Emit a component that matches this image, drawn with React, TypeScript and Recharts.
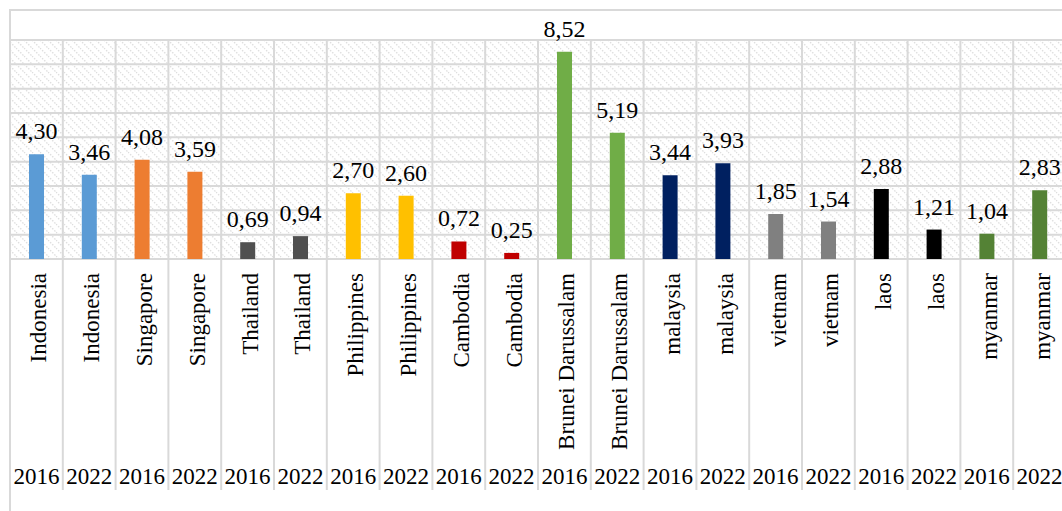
import React from 'react';
import { BarChart, Bar, XAxis, YAxis, CartesianGrid, Cell, LabelList } from 'recharts';

const countries = [
  'Indonesia', 'Indonesia', 'Singapore', 'Singapore', 'Thailand', 'Thailand',
  'Philippines', 'Philippines', 'Cambodia', 'Cambodia', 'Brunei Darussalam', 'Brunei Darussalam',
  'malaysia', 'malaysia', 'vietnam', 'vietnam', 'laos', 'laos', 'myanmar', 'myanmar',
];
const years = [
  '2016', '2022', '2016', '2022', '2016', '2022', '2016', '2022', '2016', '2022',
  '2016', '2022', '2016', '2022', '2016', '2022', '2016', '2022', '2016', '2022',
];
const values = [
  4.30, 3.46, 4.08, 3.59, 0.69, 0.94, 2.70, 2.60, 0.72, 0.25,
  8.52, 5.19, 3.44, 3.93, 1.85, 1.54, 2.88, 1.21, 1.04, 2.83,
];
const barColors = [
  '#5B9BD5', '#5B9BD5', '#ED7D31', '#ED7D31', '#505050', '#505050',
  '#FFC000', '#FFC000', '#C00000', '#C00000', '#70AD47', '#70AD47',
  '#002060', '#002060', '#808080', '#808080', '#000000', '#000000', '#548235', '#548235',
];
const yTicks = [0, 1, 2, 3, 4, 5, 6, 7, 8, 9];

const data = countries.map((c, i) => ({ idx: i, country: c, year: years[i], value: values[i] }));

const GRID = '#d9d9d9';

const CountryTick = (props: any) => {
  const { x, y, payload } = props;
  const i = payload.value;
  const off = payload.offset ?? 26.4;
  return (
    <g>
      <line x1={x - off} x2={x - off} y1={y} y2={490} stroke={GRID} strokeWidth={2} />
      {i === countries.length - 1 && (
        <line x1={x + off} x2={x + off} y1={y} y2={490} stroke={GRID} strokeWidth={2} />
      )}
      <text
        transform={`translate(${x + 10},${y + 14}) rotate(-90)`}
        textAnchor="end"
        fontSize={23}
        fill="#000"
      >
        {countries[i]}
      </text>
    </g>
  );
};

const YearTick = (props: any) => {
  const { x, y, payload } = props;
  return (
    <text x={x} y={y + 25} textAnchor="middle" fontSize={23} fill="#000">
      {years[payload.value]}
    </text>
  );
};

export default function App() {
  return (
    <div
      style={{
        position: 'absolute',
        left: 0,
        top: 0,
        width: 1062,
        height: 511,
        overflow: 'hidden',
        background: '#fff',
        fontFamily: '"Liberation Serif", serif',
      }}
    >
      <div
        style={{
          position: 'absolute',
          left: 9,
          top: 9,
          width: 2000,
          height: 2000,
          borderTop: `2px solid ${GRID}`,
          borderLeft: `2px solid ${GRID}`,
        }}
      />
      <div style={{ position: 'absolute', left: 0, top: 0 }}>
        <BarChart
          width={1066}
          height={511}
          data={data}
          margin={{ top: 40, right: 0, bottom: 0, left: 10 }}
          barCategoryGap={0}
        >
          <defs>
            <pattern id="hatch" width="8" height="8" patternUnits="userSpaceOnUse">
              <rect width="8" height="8" fill="#fff" />
              <path
                d="M0,0 L8,8 M-4,4 L4,12 M4,-4 L12,4"
                stroke="#dedede"
                strokeWidth={1.3}
                strokeDasharray="1.5 1.5"
              />
            </pattern>
          </defs>
          <CartesianGrid
            fill="url(#hatch)"
            fillOpacity={1}
            stroke={GRID}
            strokeWidth={2}
            verticalCoordinatesGenerator={({ offset }: any) =>
              Array.from({ length: countries.length + 1 }, (_, i) => offset.left + (i * offset.width) / countries.length)
            }
          />
          <XAxis
            xAxisId="cat"
            dataKey="idx"
            type="category"
            height={200}
            interval={0}
            tickLine={false}
            axisLine={false}
            tickSize={0}
            tickMargin={0}
            tick={<CountryTick />}
          />
          <XAxis
            xAxisId="yr"
            dataKey="idx"
            type="category"
            height={52}
            interval={0}
            tickLine={false}
            axisLine={false}
            tickSize={0}
            tickMargin={0}
            tick={<YearTick />}
          />
          <YAxis hide domain={[0, 9]} ticks={yTicks} />
          <Bar dataKey="value" xAxisId="cat" barSize={15} isAnimationActive={false}>
            {data.map((d, i) => (
              <Cell key={i} fill={barColors[i]} />
            ))}
            <LabelList
              dataKey="value"
              position="top"
              offset={15}
              fontSize={24}
              fill="#000"
              formatter={(v: any) => Number(v).toFixed(2).replace('.', ',')}
            />
          </Bar>
        </BarChart>
      </div>
    </div>
  );
}
